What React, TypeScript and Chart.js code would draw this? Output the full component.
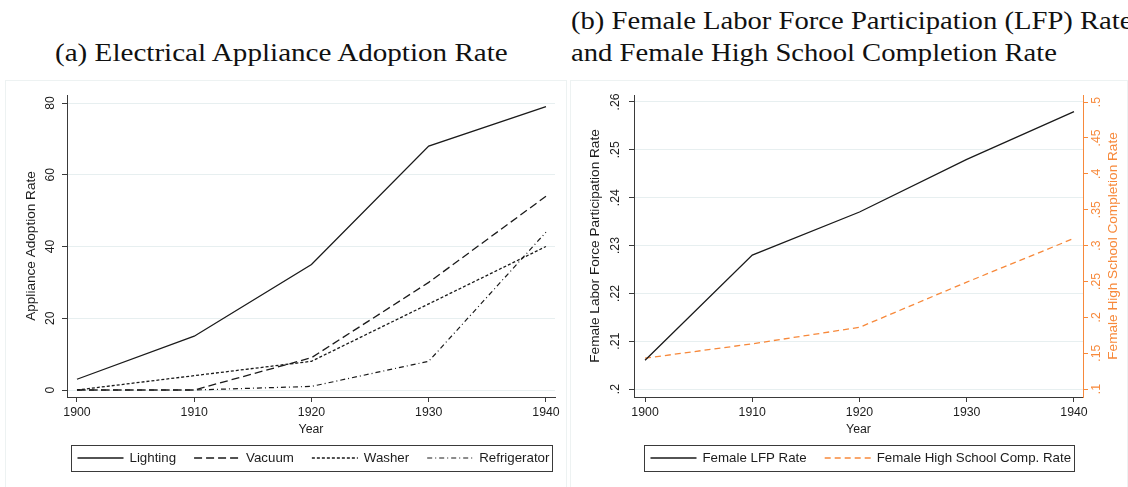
import React, { useEffect, useLayoutEffect, useRef, useState } from "react";
import { Chart, registerables } from "chart.js";
Chart.register(...registerables);

// ---------- data ----------
const years = [1900, 1910, 1920, 1930, 1940];
const lighting = [3, 15, 35, 68, 79];
const vacuum = [0, 0, 9, 30, 54];
const washer = [0, 4, 8, 24, 40];
const refrigerator = [0, 0, 1, 8, 44];
const femaleLfpRate = [0.206, 0.228, 0.237, 0.248, 0.258];
const femaleHsCompRate = [0.143, 0.163, 0.186, 0.249, 0.31];
const yearTicks = [1900, 1910, 1920, 1930, 1940];
const adoptionTicks = [0, 20, 40, 60, 80];
const lfpTicks = [0.2, 0.21, 0.22, 0.23, 0.24, 0.25, 0.26];
const hsTicks = [0.1, 0.15, 0.2, 0.25, 0.3, 0.35, 0.4, 0.45, 0.5];

// ---------- style ----------
const SANS = "'Liberation Sans', Arial, Helvetica, sans-serif";
const SERIF = "'Liberation Serif', 'Times New Roman', serif";
const INK = "#1c1c1c";
const AXIS = "#3a3a3a";
const GRID = "#e7eff0";
const ORANGE = "#f7893b";
const TICK_FONT = { family: SANS, size: 12.3 };
const YTITLE_FONT = { family: SANS, size: 13.6 };

const pts = (ys: number[]) => years.map((x, i) => ({ x, y: ys[i] }));
const fmtDec = (v: number) => {
  const s = String(+Number(v).toFixed(3));
  return s.startsWith("0.") ? s.slice(1) : s;
};
const fixTicks = (vals: number[]) => (s: any) => {
  s.ticks = vals.map((v) => ({ value: v }));
};

const boxLegend = {
  id: "boxLegend",
  afterDraw(chart: any, _args: any, opts: any) {
    const { ctx, chartArea } = chart;
    const ds = chart.data.datasets;
    ctx.save();
    ctx.font = `${opts.fontSize}px ${SANS}`;
    const widths = ds.map((d: any) => opts.lineLength + opts.textGap + ctx.measureText(d.label).width);
    const inner = widths.reduce((a: number, b: number) => a + b, 0) + opts.itemGap * (ds.length - 1);
    const boxW = inner + opts.padLeft + opts.padRight;
    const cx = (chartArea.left + chartArea.right) / 2;
    const left = Math.round(cx - boxW / 2) + 0.5;
    const top = opts.top + 0.5;
    ctx.strokeStyle = AXIS;
    ctx.lineWidth = 1;
    ctx.setLineDash([]);
    ctx.strokeRect(left, top, Math.round(boxW), opts.height);
    const cy = opts.top + opts.height / 2;
    let x = left + opts.padLeft;
    ds.forEach((d: any, i: number) => {
      ctx.beginPath();
      ctx.setLineDash(d.borderDash || []);
      ctx.strokeStyle = d.borderColor;
      ctx.lineWidth = d.borderWidth;
      ctx.moveTo(x, cy);
      ctx.lineTo(x + opts.lineLength, cy);
      ctx.stroke();
      ctx.setLineDash([]);
      ctx.fillStyle = INK;
      ctx.textBaseline = "middle";
      ctx.textAlign = "left";
      ctx.fillText(d.label, x + opts.lineLength + opts.textGap, cy);
      x += widths[i] + opts.itemGap;
    });
    ctx.restore();
  },
};

const rightTitle = {
  id: "rightTitle",
  afterDraw(chart: any, _a: any, opts: any) {
    const s = chart.scales[opts.scaleId];
    if (!s) return;
    const { ctx, chartArea } = chart;
    ctx.save();
    ctx.translate(s.left + opts.offset, (chartArea.top + chartArea.bottom) / 2);
    ctx.rotate(-Math.PI / 2);
    ctx.font = `${opts.fontSize}px ${SANS}`;
    ctx.fillStyle = opts.color;
    ctx.textAlign = "center";
    ctx.textBaseline = "middle";
    ctx.fillText(opts.text, 0, 0);
    ctx.restore();
  },
};

const xScale = (min: number, max: number) => ({
  type: "linear",
  min,
  max,
  afterBuildTicks: fixTicks(yearTicks),
  afterFit: (s: any) => {
    s.height = 40;
  },
  grid: { display: true, drawOnChartArea: false, drawTicks: true, tickLength: 5, tickColor: AXIS },
  border: { display: true, color: AXIS, width: 1 },
  ticks: {
    font: TICK_FONT,
    color: INK,
    padding: 3,
    minRotation: 0,
    maxRotation: 0,
    autoSkip: false,
    callback: (v: any) => String(v),
  },
  title: { display: true, text: "Year", font: TICK_FONT, color: INK, padding: { top: 0, bottom: 0.5 } },
});

const legendOpts = {
  fontSize: 13.3,
  lineLength: 46,
  textGap: 6,
  itemGap: 18,
  padLeft: 6,
  padRight: 3,
  top: 365,
  height: 26,
};

function configA(): any {
  return {
    type: "line",
    data: {
      datasets: [
        { label: "Lighting", data: pts(lighting), borderColor: "#1a1a1a", borderWidth: 1.3, borderDash: [] },
        { label: "Vacuum", data: pts(vacuum), borderColor: "#1a1a1a", borderWidth: 1.3, borderDash: [8, 4] },
        { label: "Washer", data: pts(washer), borderColor: "#1a1a1a", borderWidth: 1.3, borderDash: [3, 2] },
        { label: "Refrigerator", data: pts(refrigerator), borderColor: "#1a1a1a", borderWidth: 1.2, borderDash: [5, 3, 1, 3] },
      ],
    },
    options: {
      animation: false,
      responsive: false,
      events: [],
      elements: { point: { radius: 0 }, line: { tension: 0, fill: false } },
      layout: { padding: { left: 0, right: 12, top: 15, bottom: 50 } },
      plugins: { legend: { display: false }, tooltip: { enabled: false }, boxLegend: legendOpts },
      scales: {
        x: xScale(1899.15, 1940.77),
        y: {
          min: -1.95,
          max: 82.23,
          afterBuildTicks: fixTicks(adoptionTicks),
          afterFit: (s: any) => {
            s.width = 62;
          },
          grid: { color: GRID, lineWidth: 1, tickColor: AXIS, tickLength: 5, drawTicks: true },
          border: { display: true, color: AXIS, width: 1 },
          ticks: {
            font: TICK_FONT,
            color: INK,
            minRotation: 90,
            maxRotation: 90,
            crossAlign: "center",
            padding: 5,
            autoSkip: false,
            callback: (v: any) => String(v),
          },
          title: {
            display: true,
            text: "Appliance Adoption Rate",
            font: YTITLE_FONT,
            color: INK,
            padding: { top: 18.5, bottom: 0 },
          },
        },
      },
    },
    plugins: [boxLegend],
  };
}

function configB(): any {
  return {
    type: "line",
    data: {
      datasets: [
        { label: "Female LFP Rate", data: pts(femaleLfpRate), yAxisID: "y", borderColor: "#1a1a1a", borderWidth: 1.3, borderDash: [] },
        {
          label: "Female High School Comp. Rate",
          data: pts(femaleHsCompRate),
          yAxisID: "y1",
          borderColor: ORANGE,
          borderWidth: 1.3,
          borderDash: [6, 4],
        },
      ],
    },
    options: {
      animation: false,
      responsive: false,
      events: [],
      elements: { point: { radius: 0 }, line: { tension: 0, fill: false } },
      layout: { padding: { left: 0, right: 0, top: 15, bottom: 50 } },
      plugins: {
        legend: { display: false },
        tooltip: { enabled: false },
        boxLegend: legendOpts,
        rightTitle: { scaleId: "y1", offset: 30, fontSize: 13.6, color: ORANGE, text: "Female High School Completion Rate" },
      },
      scales: {
        x: xScale(1898.97, 1940.84),
        y: {
          position: "left",
          min: 0.19833,
          max: 0.26146,
          afterBuildTicks: fixTicks(lfpTicks),
          afterFit: (s: any) => {
            s.width = 64;
          },
          grid: { color: GRID, lineWidth: 1, tickColor: AXIS, tickLength: 5, drawTicks: true },
          border: { display: true, color: AXIS, width: 1 },
          ticks: {
            font: TICK_FONT,
            color: INK,
            minRotation: 90,
            maxRotation: 90,
            crossAlign: "center",
            padding: 5,
            autoSkip: false,
            callback: (v: any) => fmtDec(v),
          },
          title: {
            display: true,
            text: "Female Labor Force Participation Rate",
            font: YTITLE_FONT,
            color: INK,
            padding: { top: 17.5, bottom: 0 },
          },
        },
        y1: {
          position: "right",
          min: 0.0889,
          max: 0.5098,
          afterBuildTicks: fixTicks(hsTicks),
          afterFit: (s: any) => {
            s.width = 45;
          },
          grid: { drawOnChartArea: false, tickColor: ORANGE, tickLength: 5, drawTicks: true },
          border: { display: true, color: ORANGE, width: 1 },
          ticks: {
            font: TICK_FONT,
            color: ORANGE,
            minRotation: 90,
            maxRotation: 90,
            crossAlign: "center",
            padding: 0,
            autoSkip: false,
            callback: (v: any) => fmtDec(v),
          },
          title: { display: false },
        },
      },
    },
    plugins: [boxLegend, rightTitle],
  };
}

function ChartPanel({ left, width, makeConfig }: { left: number; width: number; makeConfig: () => any }) {
  const ref = useRef<HTMLCanvasElement | null>(null);
  useEffect(() => {
    if (!ref.current) return;
    const chart = new Chart(ref.current, makeConfig());
    return () => chart.destroy();
  }, []);
  return (
    <div style={{ position: "absolute", left, top: 80, width, height: 407, background: "#fff" }}>
      <canvas ref={ref} width={width} height={407} style={{ display: "block", width, height: 407 }} />
      <div
        style={{
          position: "absolute",
          inset: 0,
          border: "1px solid #edf2f2",
          borderBottom: "none",
          pointerEvents: "none",
        }}
      />
    </div>
  );
}

const TITLE_SIZE = 25.5;

function useScaleX(text: string, target: number) {
  const [k, setK] = useState(1);
  useLayoutEffect(() => {
    const c = document.createElement("canvas").getContext("2d");
    if (!c) return;
    c.font = `${TITLE_SIZE}px ${SERIF}`;
    const w = c.measureText(text).width;
    setK(target / w);
  }, [text, target]);
  return k;
}

const titleBase: React.CSSProperties = {
  position: "absolute",
  fontFamily: SERIF,
  fontSize: TITLE_SIZE,
  lineHeight: "32px",
  color: "#111",
  whiteSpace: "nowrap",
  transformOrigin: "0 0",
};

export default function App() {
  const kA = useScaleX("(a) Electrical Appliance Adoption Rate", 456);
  const kB = useScaleX("and Female High School Completion Rate", 486);
  return (
    <div
      style={{
        position: "fixed",
        left: 0,
        top: 0,
        width: 1128,
        height: 487,
        overflow: "hidden",
        background: "#fff",
      }}
    >
      <div style={{ ...titleBase, left: 55, top: 37.4, transform: `scaleX(${kA})` }}>
        (a) Electrical Appliance Adoption Rate
      </div>
      <div style={{ ...titleBase, left: 571, top: 5.4, transform: `scaleX(${kB})` }}>
        (b) Female Labor Force Participation (LFP) Rate
      </div>
      <div style={{ ...titleBase, left: 571, top: 37.4, transform: `scaleX(${kB})` }}>
        and Female High School Completion Rate
      </div>
      <ChartPanel left={5} width={562} makeConfig={configA} />
      <ChartPanel left={570} width={558} makeConfig={configB} />
    </div>
  );
}
